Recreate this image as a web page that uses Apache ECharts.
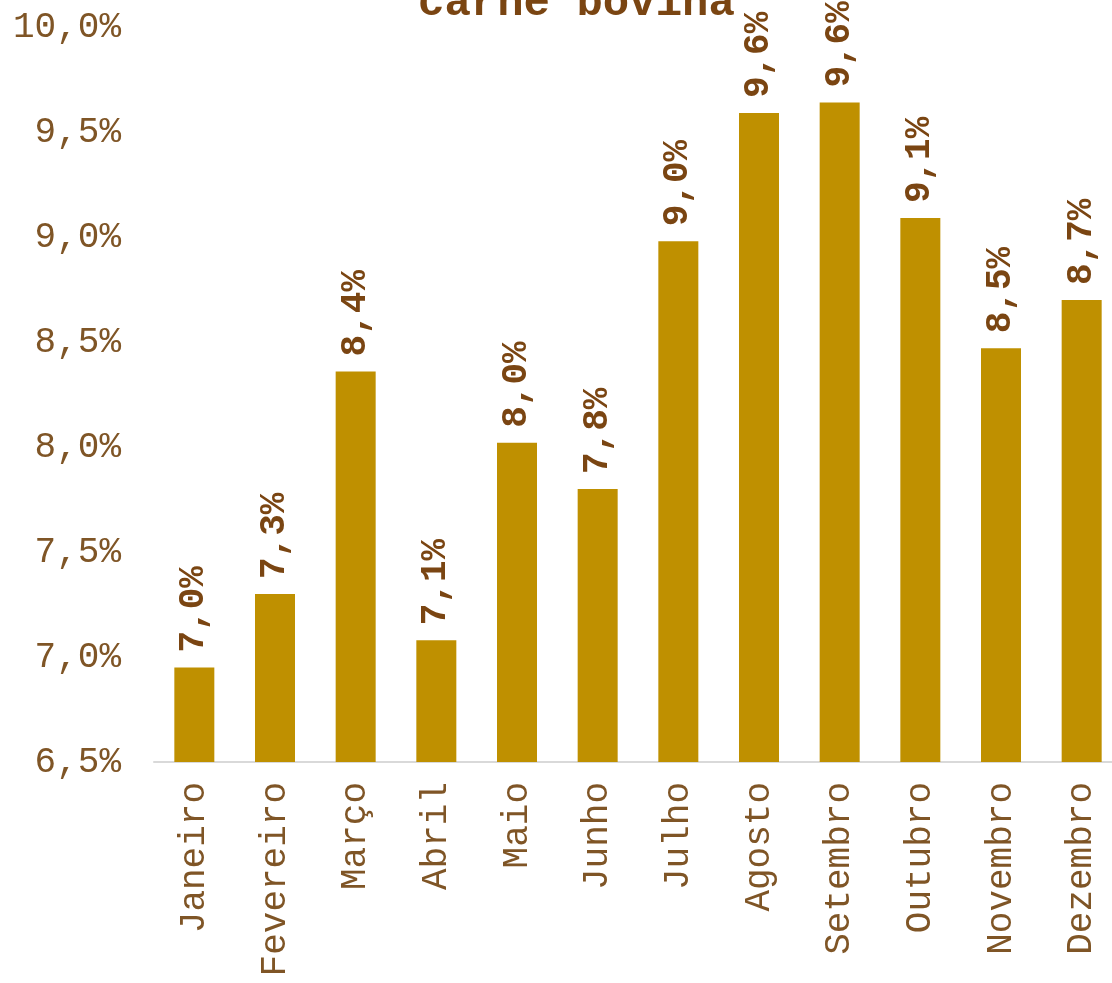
<!DOCTYPE html>
<html>
<head>
<meta charset="utf-8">
<script src="https://cdn.jsdelivr.net/npm/echarts@6/dist/echarts.min.js"></script>
<style>
  html, body { margin: 0; padding: 0; background: #fff; overflow: hidden; }
  #chart { width: 1122px; height: 983px; }
</style>
</head>
<body>
<div id="chart"></div>
<script>
const months = ['Janeiro', 'Fevereiro', 'Março', 'Abril', 'Maio', 'Junho',
  'Julho', 'Agosto', 'Setembro', 'Outubro', 'Novembro', 'Dezembro']
const shares = [6.95, 7.3, 8.36, 7.08, 8.02, 7.8, 8.98, 9.59, 9.64, 9.09, 8.47, 8.7]
const yMin = 6.5
const yMax = 10
const yStep = 0.5

const FONT = '"Liberation Mono", "DejaVu Sans Mono", monospace'
const BROWN = '#7A4512'
const fmt = v => v.toFixed(1).replace('.', ',') + '%'

// the plot runs a bit past the right edge of the window, like the original
const chart = echarts.init(document.getElementById('chart'))
chart.setOption({
  animation: false,
  title: {
    text: 'carne bovina',
    left: 413,
    top: -23,
    textStyle: {
      fontFamily: FONT,
      fontSize: 44,
      fontWeight: 'bold',
      color: BROWN
    }
  },
  grid: {
    left: 154,
    top: 27,
    right: 0,
    bottom: 221,
    containLabel: false
  },
  xAxis: {
    type: 'category',
    data: months,
    axisLine: { lineStyle: { color: '#D9D9D9', width: 2 } },
    axisTick: { show: false },
    axisLabel: {
      rotate: 90,
      margin: 20,
      fontFamily: FONT,
      fontSize: 36,
      color: '#7F5526',
      interval: 0
    }
  },
  yAxis: {
    type: 'value',
    min: yMin,
    max: yMax,
    interval: yStep,
    axisLine: { show: false },
    axisTick: { show: false },
    splitLine: { show: false },
    axisLabel: {
      margin: 33,
      fontFamily: FONT,
      fontSize: 36,
      color: '#7F5526',
      formatter: fmt
    }
  },
  series: [{
    type: 'bar',
    data: shares,
    barWidth: 40,
    itemStyle: { color: '#BF9000' },
    label: {
      show: true,
      position: 'top',
      rotate: 90,
      align: 'left',
      verticalAlign: 'middle',
      distance: 15,
      fontFamily: FONT,
      fontSize: 36,
      fontWeight: 'bold',
      color: BROWN,
      formatter: p => fmt(p.value)
    }
  }]
})
</script>
</body>
</html>
